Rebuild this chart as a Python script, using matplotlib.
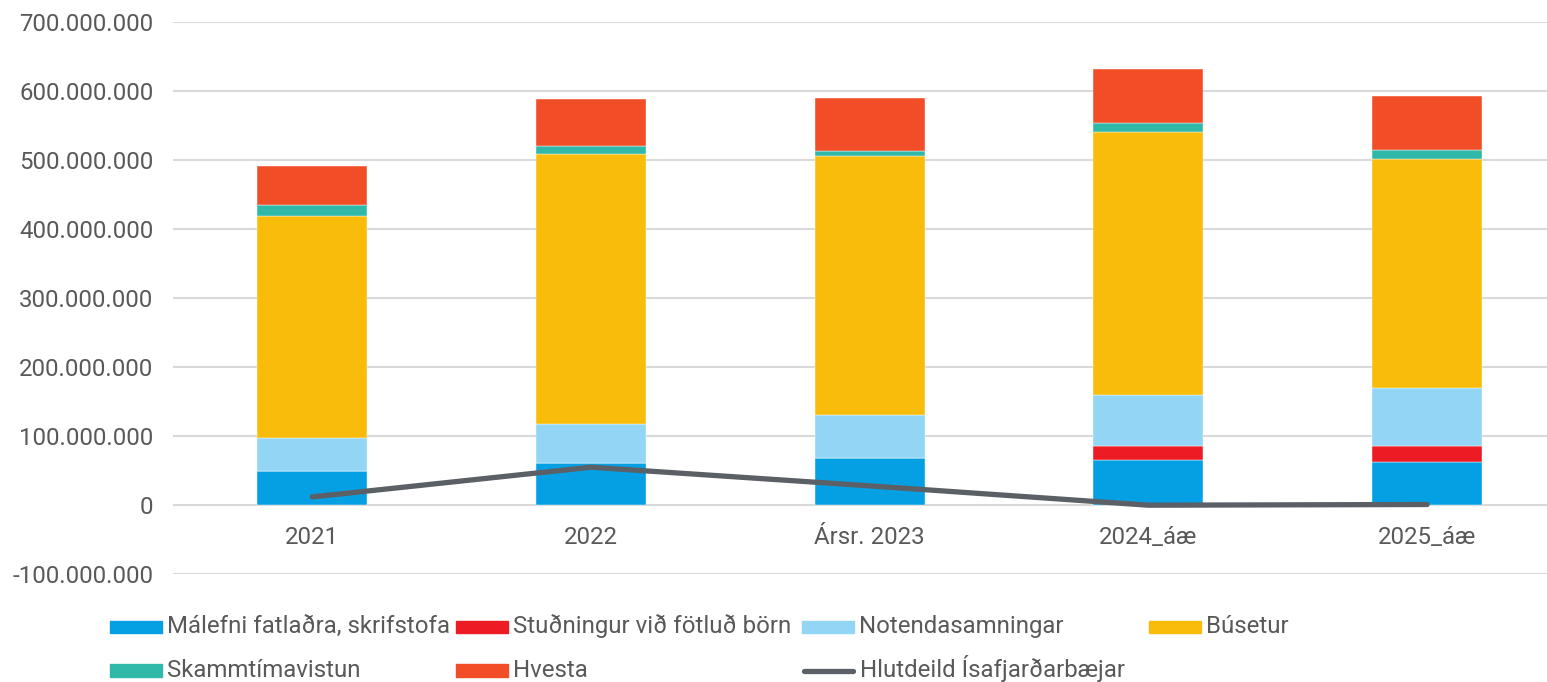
#%% IMPORTS ~~~~~~~~~~~~~~~~~~~~~~~~~~~~~~~~~~~~~~~~~~~~
import matplotlib
matplotlib.use('Agg')
import matplotlib.pyplot as plt
from matplotlib.ticker import FuncFormatter, MultipleLocator
from matplotlib.patches import Rectangle
from matplotlib.lines import Line2D

#%% DATA ~~~~~~~~~~~~~~~~~~~~~~~~~~~~~~~~~~~~~~~~~~~~
years = ['2021', '2022', 'Ársr. 2023', '2024_áæ', '2025_áæ']

# values in millions kr
skrifstofa = [49, 61, 69, 65, 62]
studningur = [0, 0, 0, 20, 23]
notendasamningar = [49, 56, 62, 75, 84]
busetur = [321, 392, 375, 380, 332]
skammtimavistun = [16, 11, 7, 14, 14]
hvesta = [56, 68, 76, 77, 77]
hlutdeild = [12, 55, 28, 0, 1]

series_names = ['Málefni fatlaðra, skrifstofa', 'Stuðningur við fötluð börn',
                'Notendasamningar', 'Búsetur', 'Skammtímavistun', 'Hvesta']
line_name = 'Hlutdeild Ísafjarðarbæjar'

#%% CONFIGURATION ~~~~~~~~~~~~~~~~~~~~~~~~~~~~~~~~~~~~~~~~~~~~
colors = ['#05A0E3', '#ED1C24', '#93D5F4', '#F9BC0B', '#30B8A9', '#F14E28']
line_color = '#5B5F66'
text_color = '#595959'
W, H = 1547, 682
plt.rcParams['font.family'] = ['Roboto', 'DejaVu Sans']

# legend slots (pixel x of handle, row) in the order of series_names
legend_slots = [(110, 0), (456, 0), (802, 0), (1149, 0), (110, 1), (456, 1)]
line_slot = (801, 1)
row_y = [626.7, 670.5]


def fmt(v, pos):
    v = int(round(v * 1e6))
    if v == 0:
        return '0'
    return f'{v:,}'.replace(',', '.')


def fx(px):
    return px / W


def fy(py):
    return 1 - py / H


#%% MAIN ~~~~~~~~~~~~~~~~~~~~~~~~~~~~~~~~~~~~~~~~~~~~
def main():
    fig = plt.figure(figsize=(15.47, 6.82), dpi=100)
    ax = fig.add_axes([0.1118, 0.158, 0.8882, 0.810])

    x = range(len(years))
    bottoms = [0] * len(years)
    all_series = [skrifstofa, studningur, notendasamningar, busetur,
                  skammtimavistun, hvesta]
    for vals, col in zip(all_series, colors):
        ax.bar(x, vals, width=0.395, bottom=bottoms, color=col,
               edgecolor='white', linewidth=0.3, zorder=2)
        bottoms = [b + v for b, v in zip(bottoms, vals)]

    ax.plot(x, hlutdeild, color=line_color, linewidth=3.8,
            solid_capstyle='round', solid_joinstyle='round', zorder=3)

    ax.set_ylim(-100, 700)
    ax.set_xlim(-0.5, 4.43)
    ax.yaxis.set_major_locator(MultipleLocator(100))
    ax.yaxis.set_major_formatter(FuncFormatter(fmt))
    ax.grid(axis='y', color='#d9d9d9', linewidth=1.5, zorder=0)
    ax.set_axisbelow(True)
    for s in ax.spines.values():
        s.set_visible(False)
    ax.tick_params(axis='y', length=0, labelsize=17.3, labelcolor=text_color, pad=14)
    ax.tick_params(axis='x', length=0, labelsize=17.3, labelcolor=text_color, pad=0)
    ax.set_xticks(list(x))
    ax.set_xticklabels(years)
    for lbl in ax.get_xticklabels():
        lbl.set_y(0.088)

    # manual legend so both rows line up like the original
    for name, col, (px, row) in zip(series_names, colors, legend_slots):
        cy = row_y[row]
        fig.add_artist(Rectangle((fx(px), fy(cy + 6.2)), fx(51.5), 12.4 / H,
                                 transform=fig.transFigure, color=col))
        fig.text(fx(px + 57), fy(cy + 6.3), name, fontsize=17.3,
                 color=text_color, va='baseline', ha='left')
    px, row = line_slot
    cy = row_y[row]
    fig.add_artist(Line2D([fx(px + 2.7), fx(px + 52.3)], [fy(cy), fy(cy)],
                          transform=fig.transFigure, color=line_color,
                          linewidth=3.8, solid_capstyle='round'))
    fig.text(fx(px + 59), fy(cy + 6.3), line_name, fontsize=17.3,
             color=text_color, va='baseline', ha='left')

    fig.savefig('out.png', dpi=100)
    plt.close(fig)


#%% SELF-RUN ~~~~~~~~~~~~~~~~~~~~~~~~~~~~~~~~~~~~~~~~~~~~
if __name__ == "__main__":
    main()
